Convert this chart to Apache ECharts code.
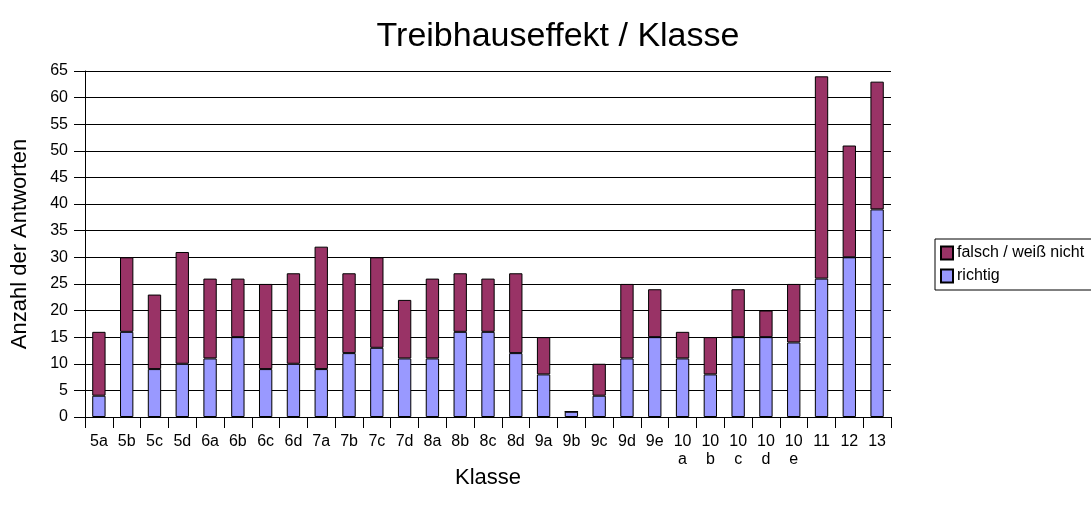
<!DOCTYPE html>
<html>
<head>
<meta charset="utf-8">
<script src="https://cdn.jsdelivr.net/npm/echarts@6/dist/echarts.min.js"></script>
<style>
html, body { margin: 0; padding: 0; background: #fff; }
#content { width: 1091px; height: 508px; }
</style>
</head>
<body>
<div id="content"></div>
<script>
// Klassen
var klassen = ['5a', '5b', '5c', '5d', '6a', '6b', '6c', '6d', '7a', '7b', '7c', '7d', '8a', '8b', '8c', '8d',
    '9a', '9b', '9c', '9d', '9e', '10a', '10b', '10c', '10d', '10e', '11', '12', '13'];
// richtige Antworten
var richtig = [4, 16, 9, 10, 11, 15, 9, 10, 9, 12, 13, 11, 11, 16, 16, 12, 8, 1, 4, 11, 15, 11, 8, 15, 15, 14, 26, 30, 39];
// falsch / weiß nicht
var falsch = [12, 14, 14, 21, 15, 11, 16, 17, 23, 15, 17, 11, 15, 11, 10, 15, 7, 0, 6, 14, 9, 5, 7, 9, 5, 11, 38, 21, 24];

var font = 'Liberation Sans, Arial, sans-serif';
var myChart = echarts.init(document.getElementById('content'));

myChart.setOption({
    animation: false,
    textStyle: { fontFamily: font, color: '#000' },
    title: {
        text: 'Treibhauseffekt / Klasse',
        left: 553, top: 15, textAlign: 'center',
        textStyle: { fontSize: 34, fontWeight: 'normal', color: '#000', fontFamily: font }
    },
    legend: {
        orient: 'vertical',
        left: 935, top: 239,
        data: ['falsch / weiß nicht', 'richtig'],
        icon: 'rect',
        itemWidth: 12, itemHeight: 13, itemGap: 7,
        borderColor: '#000', borderWidth: 1, padding: [6, 8, 6, 5],
        textStyle: { fontSize: 16, color: '#000', fontFamily: font, padding: [0, 0, 0, -1] }
    },
    grid: { left: 85, right: 200, top: 71, bottom: 91, containLabel: false, outerBoundsMode: 'none' },
    xAxis: {
        type: 'category',
        data: klassen,
        name: 'Klasse',
        nameLocation: 'middle',
        nameGap: 50,
        nameMoveOverlap: false,
        nameTextStyle: { fontSize: 22, color: '#000', fontFamily: font },
        axisLine: { lineStyle: { color: '#000', width: 1 } },
        axisTick: { show: true, length: 11, lineStyle: { color: '#000' } },
        axisLabel: {
            interval: 0, fontSize: 16, color: '#000', margin: 16, lineHeight: 18,
            formatter: function (v) {
                return v.length === 3 ? v.slice(0, 2) + '\n' + v.slice(2) : v;
            }
        }
    },
    yAxis: {
        type: 'value',
        min: 0, max: 65, interval: 5,
        name: 'Anzahl der Antworten',
        nameLocation: 'middle',
        nameGap: 54,
        nameMoveOverlap: false,
        nameTextStyle: { fontSize: 22, color: '#000', fontFamily: font },
        axisLine: { show: true, lineStyle: { color: '#000', width: 1 } },
        axisTick: { show: true, length: 11, lineStyle: { color: '#000' } },
        axisLabel: { fontSize: 16, color: '#000', margin: 17 },
        splitLine: { lineStyle: { color: '#000', width: 1 } }
    },
    series: [{
        name: 'richtig',
        type: 'bar',
        stack: 'gesamt',
        barWidth: '48%',
        itemStyle: { color: '#9999FF', borderColor: '#000', borderWidth: 1 },
        data: richtig
    }, {
        name: 'falsch / weiß nicht',
        type: 'bar',
        stack: 'gesamt',
        barWidth: '48%',
        itemStyle: { color: '#993366', borderColor: '#000', borderWidth: 1 },
        data: falsch
    }]
});
</script>
</body>
</html>
